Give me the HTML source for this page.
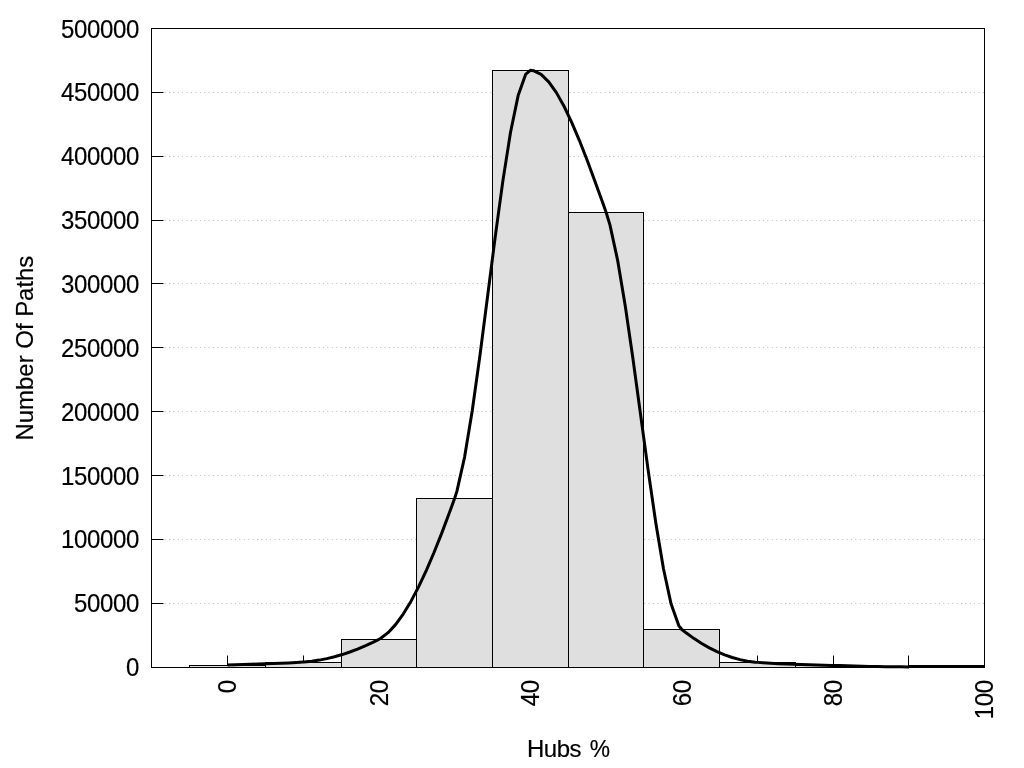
<!DOCTYPE html>
<html><head><meta charset="utf-8"><title>Hubs %</title>
<style>
html,body{margin:0;padding:0;background:#fff;}
svg{display:block;}
text{font-family:"Liberation Sans",Arial,sans-serif;font-size:24px;fill:#000;stroke:#000;stroke-width:0.18px;}
.d{letter-spacing:-0.35px;}
</style></head><body>
<svg width="1024" height="768" viewBox="0 0 1024 768">
<rect width="1024" height="768" fill="#fff"/>
<line x1="151.5" y1="667.5" x2="163.5" y2="667.5" stroke="#000" stroke-width="1"/>
<text transform="translate(138.9,676.35) scale(1,1.04)" text-anchor="end" class="d">0</text>
<line x1="151.4" y1="603.5" x2="984.5" y2="603.5" stroke="#bebebe" stroke-width="1" stroke-dasharray="1 3.4"/>
<line x1="151.5" y1="603.5" x2="163.5" y2="603.5" stroke="#000" stroke-width="1"/>
<text transform="translate(138.9,612.35) scale(1,1.04)" text-anchor="end" class="d">50000</text>
<line x1="151.4" y1="539.5" x2="984.5" y2="539.5" stroke="#bebebe" stroke-width="1" stroke-dasharray="1 3.4"/>
<line x1="151.5" y1="539.5" x2="163.5" y2="539.5" stroke="#000" stroke-width="1"/>
<text transform="translate(138.9,548.35) scale(1,1.04)" text-anchor="end" class="d">100000</text>
<line x1="151.4" y1="475.5" x2="984.5" y2="475.5" stroke="#bebebe" stroke-width="1" stroke-dasharray="1 3.4"/>
<line x1="151.5" y1="475.5" x2="163.5" y2="475.5" stroke="#000" stroke-width="1"/>
<text transform="translate(138.9,485.35) scale(1,1.04)" text-anchor="end" class="d">150000</text>
<line x1="151.4" y1="411.5" x2="984.5" y2="411.5" stroke="#bebebe" stroke-width="1" stroke-dasharray="1 3.4"/>
<line x1="151.5" y1="411.5" x2="163.5" y2="411.5" stroke="#000" stroke-width="1"/>
<text transform="translate(138.9,421.35) scale(1,1.04)" text-anchor="end" class="d">200000</text>
<line x1="151.4" y1="347.5" x2="984.5" y2="347.5" stroke="#bebebe" stroke-width="1" stroke-dasharray="1 3.4"/>
<line x1="151.5" y1="347.5" x2="163.5" y2="347.5" stroke="#000" stroke-width="1"/>
<text transform="translate(138.9,357.35) scale(1,1.04)" text-anchor="end" class="d">250000</text>
<line x1="151.4" y1="283.5" x2="984.5" y2="283.5" stroke="#bebebe" stroke-width="1" stroke-dasharray="1 3.4"/>
<line x1="151.5" y1="283.5" x2="163.5" y2="283.5" stroke="#000" stroke-width="1"/>
<text transform="translate(138.9,293.35) scale(1,1.04)" text-anchor="end" class="d">300000</text>
<line x1="151.4" y1="220.5" x2="984.5" y2="220.5" stroke="#bebebe" stroke-width="1" stroke-dasharray="1 3.4"/>
<line x1="151.5" y1="220.5" x2="163.5" y2="220.5" stroke="#000" stroke-width="1"/>
<text transform="translate(138.9,229.35) scale(1,1.04)" text-anchor="end" class="d">350000</text>
<line x1="151.4" y1="156.5" x2="984.5" y2="156.5" stroke="#bebebe" stroke-width="1" stroke-dasharray="1 3.4"/>
<line x1="151.5" y1="156.5" x2="163.5" y2="156.5" stroke="#000" stroke-width="1"/>
<text transform="translate(138.9,165.35) scale(1,1.04)" text-anchor="end" class="d">400000</text>
<line x1="151.4" y1="92.5" x2="984.5" y2="92.5" stroke="#bebebe" stroke-width="1" stroke-dasharray="1 3.4"/>
<line x1="151.5" y1="92.5" x2="163.5" y2="92.5" stroke="#000" stroke-width="1"/>
<text transform="translate(138.9,101.35) scale(1,1.04)" text-anchor="end" class="d">450000</text>
<line x1="151.5" y1="28.5" x2="163.5" y2="28.5" stroke="#000" stroke-width="1"/>
<text transform="translate(138.9,38.35) scale(1,1.04)" text-anchor="end" class="d">500000</text>
<line x1="227.5" y1="667.5" x2="227.5" y2="655.5" stroke="#000" stroke-width="1"/>
<text transform="translate(236.47,680.2) rotate(-90) scale(1,1.06)" text-anchor="end" class="d">0</text>
<line x1="303.5" y1="667.5" x2="303.5" y2="655.5" stroke="#000" stroke-width="1"/>
<line x1="378.5" y1="667.5" x2="378.5" y2="655.5" stroke="#000" stroke-width="1"/>
<text transform="translate(387.92,680.2) rotate(-90) scale(1,1.06)" text-anchor="end" class="d">20</text>
<line x1="454.5" y1="667.5" x2="454.5" y2="655.5" stroke="#000" stroke-width="1"/>
<line x1="530.5" y1="667.5" x2="530.5" y2="655.5" stroke="#000" stroke-width="1"/>
<text transform="translate(539.38,680.2) rotate(-90) scale(1,1.06)" text-anchor="end" class="d">40</text>
<line x1="606.5" y1="667.5" x2="606.5" y2="655.5" stroke="#000" stroke-width="1"/>
<line x1="681.5" y1="667.5" x2="681.5" y2="655.5" stroke="#000" stroke-width="1"/>
<text transform="translate(690.83,680.2) rotate(-90) scale(1,1.06)" text-anchor="end" class="d">60</text>
<line x1="757.5" y1="667.5" x2="757.5" y2="655.5" stroke="#000" stroke-width="1"/>
<line x1="833.5" y1="667.5" x2="833.5" y2="655.5" stroke="#000" stroke-width="1"/>
<text transform="translate(842.29,680.2) rotate(-90) scale(1,1.06)" text-anchor="end" class="d">80</text>
<line x1="908.5" y1="667.5" x2="908.5" y2="655.5" stroke="#000" stroke-width="1"/>
<line x1="984.5" y1="667.5" x2="984.5" y2="655.5" stroke="#000" stroke-width="1"/>
<text transform="translate(992.94,680.2) rotate(-90) scale(1,1.06)" text-anchor="end" class="d">100</text>
<rect x="189.5" y="665.5" width="76.0" height="2.0" fill="#dfdfdf" stroke="#000" stroke-width="1"/>
<rect x="265.5" y="662.5" width="76.0" height="5.0" fill="#dfdfdf" stroke="#000" stroke-width="1"/>
<rect x="341.5" y="639.5" width="75.0" height="28.0" fill="#dfdfdf" stroke="#000" stroke-width="1"/>
<rect x="416.5" y="498.5" width="76.0" height="169.0" fill="#dfdfdf" stroke="#000" stroke-width="1"/>
<rect x="492.5" y="70.5" width="76.0" height="597.0" fill="#dfdfdf" stroke="#000" stroke-width="1"/>
<rect x="568.5" y="212.5" width="75.0" height="455.0" fill="#dfdfdf" stroke="#000" stroke-width="1"/>
<rect x="643.5" y="629.5" width="76.0" height="38.0" fill="#dfdfdf" stroke="#000" stroke-width="1"/>
<rect x="719.5" y="662.5" width="76.0" height="5.0" fill="#dfdfdf" stroke="#000" stroke-width="1"/>
<rect x="795.5" y="665.5" width="76.0" height="2.0" fill="#dfdfdf" stroke="#000" stroke-width="1"/>
<rect x="871.5" y="666.5" width="75.0" height="1.0" fill="#dfdfdf" stroke="#000" stroke-width="1"/>
<rect x="946.5" y="666.5" width="38.0" height="1.0" fill="#dfdfdf" stroke="#000" stroke-width="1"/>
<path d="M227.47,665.05 L235.12,664.77 L242.77,664.52 L250.41,664.29 L258.06,664.06 L265.71,663.82 L273.36,663.56 L281.01,663.26 L288.66,662.91 L296.31,662.49 L303.19,662.05 L303.96,661.99 L311.61,661.23 L319.26,660.10 L326.91,658.61 L334.56,656.76 L342.21,654.55 L349.85,652.01 L357.50,649.12 L365.15,645.91 L372.80,642.36 L378.92,639.30 L380.45,638.45 L388.10,632.66 L395.75,624.39 L403.40,613.83 L411.05,601.17 L418.70,586.61 L426.35,570.33 L434.00,552.52 L441.65,533.38 L449.29,513.09 L454.65,498.30 L456.94,491.10 L464.59,457.08 L472.24,410.69 L479.89,355.91 L487.54,296.73 L495.19,237.12 L502.84,181.08 L510.49,132.57 L518.14,95.58 L525.79,74.09 L530.38,70.30 L533.44,70.64 L541.09,74.38 L548.73,81.86 L556.38,92.63 L564.03,106.26 L571.68,122.30 L579.33,140.30 L586.98,159.81 L594.63,180.40 L602.28,201.60 L606.10,212.30 L609.93,224.88 L617.58,260.06 L625.23,305.67 L632.88,358.25 L640.53,414.32 L648.17,470.42 L655.82,523.06 L663.47,568.79 L671.12,604.12 L678.77,625.58 L681.83,629.50 L686.42,633.09 L694.07,638.60 L701.72,643.53 L709.37,647.88 L717.02,651.66 L724.67,654.87 L732.32,657.53 L739.96,659.62 L747.61,661.17 L755.26,662.17 L757.56,662.37 L762.91,662.74 L770.56,663.22 L778.21,663.63 L785.86,663.98 L793.51,664.28 L801.16,664.55 L808.81,664.78 L816.46,664.99 L824.11,665.20 L831.76,665.39 L833.29,665.43 L839.40,665.60 L847.05,665.80 L854.70,666.01 L862.35,666.21 L870.00,666.39 L877.65,666.55 L885.30,666.69 L892.95,666.80 L900.60,666.87 L908.25,666.90 L909.01,666.90" fill="none" stroke="#000" stroke-width="3" stroke-linejoin="round" stroke-linecap="butt"/>
<line x1="909.01" y1="666.5" x2="984.74" y2="666.5" stroke="#000" stroke-width="3"/>
<rect x="151.5" y="28.5" width="833.0" height="639.0" fill="none" stroke="#000" stroke-width="1"/>
<text transform="translate(33,348.1) rotate(-90) scale(1,1.02)" text-anchor="middle" style="letter-spacing:-0.04px">Number Of Paths</text>
<text transform="translate(568.3,757) scale(1,1.03)" text-anchor="middle" style="letter-spacing:-0.5px;word-spacing:2.7px">Hubs <tspan textLength="19.8" lengthAdjust="spacingAndGlyphs">%</tspan></text>
</svg>
</body></html>
